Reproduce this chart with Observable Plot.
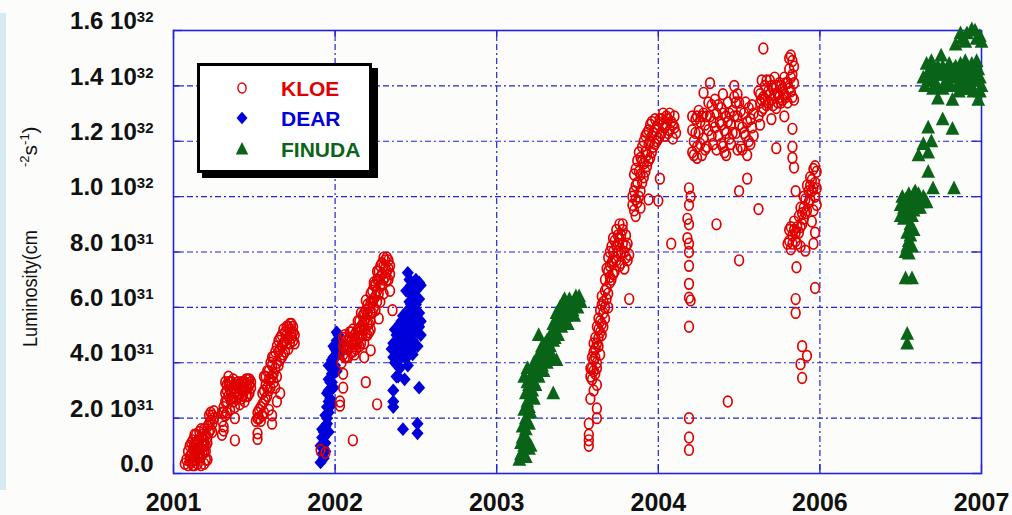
<!DOCTYPE html>
<html>
<head>
<meta charset="utf-8">
<script src="https://cdn.jsdelivr.net/npm/d3@7"></script>
<script src="https://cdn.jsdelivr.net/npm/@observablehq/plot@0.6"></script>
<style>
  html, body { margin: 0; padding: 0; background: #fcfcfa; }
  #wrap { position: relative; width: 1012px; height: 515px; overflow: hidden; }
  #strip { position: absolute; left: 0; top: 13px; width: 6px; height: 477px; background: #d6eaf3; }
  #wrap svg { position: absolute; left: 0; top: 0; }
</style>
</head>
<body>
<div id="wrap"><div id="strip"></div></div>
<script>
// x: position along the time axis (one unit per labelled tick), y: luminosity in units of 10^31 cm^-2 s^-1
const xTickValues = [0, 1, 2, 3, 4, 5];
const xTickLabels = ["2001", "2002", "2003", "2004", "2006", "2007"];
const yTickValues = [0, 2, 4, 6, 8, 10, 12, 14, 16];
const yTickMantissa = ["0.0", "2.0", "4.0", "6.0", "8.0", "1.0", "1.2", "1.4", "1.6"];
const yTickExponent = ["", "31", "31", "31", "31", "32", "32", "32", "32"];

const seriesNames = ["KLOE", "DEAR", "FINUDA"];
const seriesColors = ["#e00000", "#0000dd", "#0a6418"];

const kloe = [
  // 2001 runs
  [0.07,0.35],[0.09,0.3],[0.10,0.45],[0.12,0.3],[0.13,0.5],[0.15,0.35],[0.17,0.3],[0.19,0.35],[0.20,0.5],
  [0.11,0.7],[0.12,0.9],[0.13,1.1],[0.14,0.8],[0.15,1.2],[0.16,0.9],[0.17,1.3],[0.18,1.0],[0.19,0.8],
  [0.14,1.4],[0.16,1.5],[0.18,1.4],[0.19,1.2],[0.20,1.0],[0.21,1.3],[0.21,1.7],[0.22,1.5],[0.23,1.9],
  [0.24,2.1],[0.24,1.8],[0.23,1.6],[0.10,0.6],[0.12,1.2],[0.17,0.6],[0.20,0.8],[0.25,2.0],
  [0.08,0.5],[0.09,0.8],[0.10,1.0],[0.11,0.4],[0.11,1.1],[0.12,0.6],[0.13,0.8],[0.13,1.4],[0.14,0.5],
  [0.14,1.1],[0.15,0.7],[0.15,0.9],[0.16,0.6],[0.16,1.2],[0.17,0.9],[0.17,1.6],[0.18,0.7],[0.18,1.2],
  [0.19,1.0],[0.19,1.6],[0.20,1.4],[0.21,1.1],[0.22,1.8],[0.22,2.1],[0.23,2.2],[0.24,1.5],[0.25,2.25],
  [0.21,0.5],[0.13,0.3],
  [0.30,1.4],[0.31,1.7],[0.30,1.9],[0.32,2.1],[0.31,2.4],[0.33,2.6],[0.32,2.9],[0.33,3.2],[0.34,2.8],
  [0.35,3.0],[0.36,2.7],[0.37,3.1],[0.38,2.9],[0.39,3.2],[0.40,2.8],[0.41,3.1],[0.42,3.3],[0.43,3.0],
  [0.44,3.3],[0.45,3.1],[0.46,3.4],[0.47,3.2],[0.46,2.8],[0.44,2.6],[0.41,2.5],[0.38,2.4],[0.35,2.3],
  [0.33,2.2],[0.38,1.2],[0.38,2.0],[0.48,3.1],[0.36,3.3],[0.34,3.5],
  [0.32,3.3],[0.33,3.0],[0.34,3.3],[0.35,2.7],[0.35,3.3],[0.36,3.0],[0.37,2.6],[0.37,3.4],[0.38,3.2],
  [0.39,2.7],[0.39,3.0],[0.40,3.3],[0.40,3.1],[0.41,2.9],[0.42,2.7],[0.42,3.1],[0.43,2.8],[0.43,3.3],
  [0.44,3.0],[0.45,2.8],[0.45,3.4],[0.46,3.1],[0.47,2.9],[0.47,3.4],[0.48,3.3],[0.31,2.2],[0.32,2.6],
  [0.30,2.2],[0.31,1.55],
  [0.51,1.9],[0.52,2.2],[0.53,2.0],[0.54,2.4],[0.55,2.1],[0.56,2.6],[0.55,2.9],[0.57,3.2],[0.56,3.5],
  [0.58,2.8],[0.59,3.0],[0.58,3.7],[0.60,3.4],[0.61,3.9],[0.60,4.0],[0.62,3.6],[0.63,3.1],[0.62,4.2],
  [0.64,4.0],[0.65,4.4],[0.66,4.1],[0.67,4.6],[0.66,4.9],[0.68,4.3],[0.69,4.8],[0.70,5.0],[0.71,4.5],
  [0.72,5.2],[0.73,4.9],[0.74,5.1],[0.75,4.7],[0.73,5.4],[0.71,5.3],[0.52,1.25],[0.52,1.45],[0.61,1.8],
  [0.61,2.1],[0.64,2.6],[0.66,2.9],[0.59,2.3],
  [0.52,2.0],[0.53,2.3],[0.54,1.9],[0.55,2.5],[0.56,2.2],[0.56,3.0],[0.57,2.7],[0.57,3.5],[0.58,3.1],
  [0.59,3.4],[0.59,3.7],[0.60,3.1],[0.61,3.5],[0.61,4.2],[0.62,3.3],[0.63,3.8],[0.63,4.4],[0.64,3.5],
  [0.64,4.6],[0.65,3.9],[0.65,4.8],[0.66,4.5],[0.67,4.2],[0.67,5.0],[0.68,4.7],[0.68,5.2],[0.69,4.4],
  [0.69,5.1],[0.70,4.7],[0.70,5.3],[0.71,4.9],[0.72,4.7],[0.72,5.4],[0.73,5.1],[0.74,5.3],[0.74,4.8],
  [0.75,5.0],
  // 2002 run
  [1.04,4.0],[1.05,4.3],[1.06,4.6],[1.05,4.9],[1.07,4.2],[1.08,4.5],[1.08,4.8],[1.09,5.1],[1.10,4.4],
  [1.11,4.7],[1.12,5.0],[1.12,4.3],[1.13,4.8],[1.14,5.2],[1.15,4.6],[1.16,5.0],[1.17,5.4],[1.15,5.5],
  [1.18,4.7],[1.18,5.2],[1.19,5.6],[1.20,5.0],[1.21,5.4],[1.22,5.8],[1.20,6.1],[1.23,6.2],[1.22,6.5],
  [1.24,6.0],[1.25,6.4],[1.24,6.8],[1.26,6.6],[1.27,7.0],[1.26,7.3],[1.28,6.8],[1.29,7.2],[1.30,7.5],
  [1.31,7.1],[1.32,7.8],[1.33,7.4],[1.32,7.0],[1.34,7.2],[1.34,6.6],[1.355,5.9],[1.19,6.25],[1.18,4.2],
  [1.22,4.45],[1.05,3.6],[1.05,3.1],[1.03,2.6],[1.03,2.45],[1.19,3.3],[1.26,2.5],[1.11,1.2],[0.91,0.85],
  [0.94,0.75],[1.28,6.2],[1.30,6.5],[1.16,5.8],[1.27,5.6],
  [1.05,4.6],[1.06,4.2],[1.06,5.0],[1.07,4.5],[1.07,4.8],[1.08,4.2],[1.09,4.6],[1.09,4.9],[1.10,4.8],
  [1.10,5.1],[1.11,4.4],[1.11,5.2],[1.12,4.6],[1.13,4.5],[1.13,5.1],[1.14,4.7],[1.14,5.5],[1.15,4.9],
  [1.15,5.2],[1.16,4.7],[1.16,5.3],[1.17,5.0],[1.17,5.7],[1.18,5.5],[1.19,5.0],[1.19,5.9],[1.20,5.4],
  [1.20,5.8],[1.21,5.1],[1.21,6.0],[1.22,5.5],[1.22,6.2],[1.23,5.8],[1.23,6.6],[1.24,6.3],[1.25,5.9],
  [1.25,6.8],[1.26,6.2],[1.26,7.0],[1.27,6.5],[1.27,7.3],[1.28,7.1],[1.28,7.5],[1.29,6.8],[1.29,7.6],
  [1.30,7.0],[1.30,7.8],[1.31,7.4],[1.31,7.7],[1.32,7.3],[1.33,7.0],[1.33,7.7],[1.34,7.5],[1.24,6.9],
  [1.22,5.2],[1.18,5.8],
  // 2003-2004 run
  [2.57,1.0],[2.57,1.2],[2.57,1.4],[2.57,1.8],[2.62,2.0],[2.62,2.35],[2.58,2.7],[2.60,3.0],[2.62,3.2],
  [2.58,3.5],[2.59,3.8],[2.60,4.1],[2.61,3.6],[2.60,4.4],[2.62,4.0],[2.63,4.6],[2.61,4.9],[2.64,4.3],
  [2.63,5.2],[2.65,5.0],[2.64,5.5],[2.66,5.8],[2.65,6.1],[2.67,5.6],[2.68,6.3],[2.67,6.6],[2.69,6.0],
  [2.70,6.9],[2.69,7.3],[2.71,7.6],[2.70,8.0],[2.72,7.2],[2.73,7.8],[2.74,8.2],[2.75,8.6],[2.76,7.5],
  [2.77,8.0],[2.78,8.8],[2.78,9.0],[2.79,7.4],[2.80,8.2],[2.81,7.7],[2.82,6.3],[2.72,8.5],
  [2.58,3.8],[2.59,3.4],[2.59,4.2],[2.60,3.7],[2.60,4.7],[2.61,4.2],[2.61,4.5],[2.62,3.8],[2.62,4.7],
  [2.62,5.3],[2.63,4.9],[2.63,5.6],[2.64,5.1],[2.64,5.9],[2.65,5.4],[2.65,6.4],[2.66,5.3],[2.66,6.2],
  [2.67,6.0],[2.67,7.0],[2.68,6.7],[2.68,7.4],[2.69,6.5],[2.69,7.8],[2.70,7.1],[2.70,7.5],[2.71,7.0],
  [2.71,8.2],[2.72,7.7],[2.72,8.0],[2.73,7.3],[2.73,8.4],[2.74,7.7],[2.74,8.8],[2.75,8.0],[2.75,8.3],
  [2.76,8.5],[2.76,9.0],[2.77,7.6],[2.77,8.6],[2.78,8.3],[2.79,8.0],[2.80,7.8],[2.80,8.6],[2.81,8.3],
  [2.82,7.9],
  [2.85,9.5],[2.84,10.0],[2.86,10.4],[2.87,9.8],[2.88,10.9],[2.89,10.2],[2.90,11.3],[2.91,10.7],
  [2.92,11.6],[2.93,11.1],[2.94,11.9],[2.95,11.4],[2.96,12.2],[2.97,11.8],[2.98,12.4],[2.99,12.0],
  [3.00,12.6],[3.01,12.2],[3.02,12.8],[3.04,12.5],[3.05,12.9],[3.06,12.3],[3.08,12.7],[3.09,12.1],
  [3.10,12.5],[3.01,10.65],[2.94,9.9],[3.00,9.85],[3.08,8.3],[2.86,9.3],[2.89,9.6],
  [2.84,9.7],[2.85,10.2],[2.85,10.8],[2.86,9.9],[2.86,11.0],[2.87,10.5],[2.87,11.3],[2.88,10.0],
  [2.88,11.6],[2.89,10.8],[2.89,11.4],[2.90,10.5],[2.90,11.8],[2.91,11.2],[2.91,12.0],[2.92,10.9],
  [2.92,12.2],[2.93,11.5],[2.93,12.3],[2.94,11.3],[2.94,12.4],[2.95,12.0],[2.95,12.6],[2.96,11.6],
  [2.96,12.7],[2.97,12.3],[2.98,11.9],[2.98,12.8],[2.99,12.5],[3.00,12.1],[3.01,12.8],[3.02,12.3],
  [3.03,12.6],[3.03,13.0],[3.04,12.2],[3.05,12.6],[3.06,12.8],[3.07,12.4],[3.07,13.0],[3.09,12.6],
  [3.10,12.9],[3.11,12.3],
  [3.19,10.3],[3.20,10.0],[3.19,9.7],[3.18,9.2],[3.19,9.0],[3.18,8.5],[3.19,8.3],[3.19,8.0],[3.19,7.5],
  [3.19,6.85],[3.19,6.35],[3.20,6.25],[3.19,5.3],[3.19,2.0],[3.19,1.3],[3.19,0.85],
  [3.21,11.6],[3.22,12.0],[3.21,12.4],[3.23,12.8],[3.24,11.8],[3.25,12.3],[3.26,12.7],[3.25,13.1],
  [3.27,11.5],[3.28,12.1],[3.29,12.6],[3.28,13.0],[3.30,11.8],[3.31,12.4],[3.32,12.9],[3.33,13.3],
  [3.34,11.9],[3.35,12.5],[3.36,13.0],[3.37,12.2],[3.38,12.7],[3.39,13.2],[3.40,11.8],[3.41,12.4],
  [3.42,12.9],[3.43,13.4],[3.44,12.1],[3.45,12.6],[3.46,13.1],[3.47,13.6],[3.48,12.3],[3.49,12.9],
  [3.50,13.4],[3.51,11.8],[3.52,12.5],[3.53,13.0],[3.54,12.2],[3.55,12.7],[3.56,13.2],[3.57,11.9],
  [3.58,12.5],[3.59,13.0],[3.28,13.75],[3.32,14.1],[3.47,14.0],[3.24,11.4],[3.55,11.5],[3.42,11.5],
  [3.40,13.7],[3.49,13.7],
  [3.21,12.9],[3.22,11.5],[3.23,12.3],[3.24,12.9],[3.26,11.9],[3.27,12.9],[3.29,11.7],[3.30,12.9],
  [3.31,13.4],[3.33,12.2],[3.34,12.7],[3.35,13.5],[3.36,11.7],[3.37,13.3],[3.39,11.9],[3.39,12.6],
  [3.40,13.0],[3.41,11.6],[3.42,12.3],[3.43,12.7],[3.44,13.0],[3.45,11.9],[3.46,12.3],[3.47,12.9],
  [3.48,13.4],[3.49,11.7],[3.50,12.6],[3.51,13.1],[3.52,11.7],[3.53,12.3],[3.54,13.4],[3.56,12.0],
  [3.57,12.8],[3.58,13.3],[3.59,12.2],
  [3.36,9.0],[3.50,7.7],[3.50,10.2],[3.55,10.65],[3.62,9.55],[3.73,11.75],[3.83,12.45],[3.83,11.8],
  [3.83,11.4],[3.84,11.05],[3.43,2.6],
  [3.62,12.9],[3.63,13.4],[3.62,13.8],[3.64,13.1],[3.65,13.6],[3.66,14.0],[3.67,13.3],[3.68,13.8],
  [3.69,14.2],[3.70,13.5],[3.71,13.9],[3.72,14.3],[3.73,13.2],[3.74,13.7],[3.75,14.1],[3.76,13.4],
  [3.77,13.9],[3.78,14.3],[3.79,13.6],[3.80,14.1],[3.81,14.6],[3.82,13.8],[3.83,14.4],[3.83,14.9],
  [3.82,15.1],[3.84,13.5],[3.65,15.35],[3.63,12.6],[3.78,12.9],[3.70,12.8],
  [3.63,13.7],[3.64,13.5],[3.64,14.2],[3.65,13.2],[3.66,13.5],[3.67,14.2],[3.68,13.4],[3.69,13.7],
  [3.70,14.0],[3.71,13.3],[3.72,13.7],[3.73,14.0],[3.74,13.4],[3.75,13.6],[3.76,14.0],[3.77,13.5],
  [3.78,13.7],[3.79,14.1],[3.80,13.4],[3.81,13.9],[3.82,14.3],[3.83,13.6],[3.84,14.1],[3.84,14.7],
  [3.81,15.0],
  [3.80,8.3],[3.81,8.8],[3.82,8.1],[3.83,8.6],[3.84,9.1],[3.85,8.4],[3.86,8.9],[3.87,9.3],[3.88,8.2],
  [3.88,9.6],[3.89,9.0],[3.90,10.0],[3.91,9.4],[3.91,8.05],[3.92,10.4],[3.93,9.8],[3.94,10.7],
  [3.95,10.2],[3.96,11.0],[3.97,10.5],[3.96,8.3],[3.97,8.7],[3.98,9.7],[3.98,10.9],[3.95,9.1],[3.85,10.2],
  [3.81,8.4],[3.82,8.9],[3.83,8.3],[3.84,8.8],[3.85,8.7],[3.86,8.3],[3.87,8.7],[3.88,8.9],[3.89,9.4],
  [3.90,9.2],[3.90,9.6],[3.91,9.9],[3.92,9.5],[3.93,10.2],[3.94,9.9],[3.94,10.4],[3.95,10.6],[3.96,10.3],
  [3.96,9.5],[3.97,10.0],[3.97,11.1],[3.98,10.3],
  [3.855,7.45],[3.97,6.7],[3.85,6.3],[3.85,5.8],[3.89,4.6],[3.92,4.25],[3.88,3.95],[3.89,3.45]
];

const dear = [
  [0.91,0.4],[0.92,0.7],[0.91,1.0],[0.93,1.3],[0.92,1.6],[0.94,1.1],[0.93,0.55],[0.95,1.8],[0.94,2.1],
  [0.95,2.4],[0.96,2.2],[0.97,2.7],[0.96,3.0],[0.98,2.5],[0.97,3.3],[0.98,3.6],[0.99,3.1],[1.00,3.9],
  [0.99,4.2],[1.00,4.5],[1.01,4.8],[1.02,4.3],[1.02,5.0],[1.01,3.7],[0.96,3.9],[0.96,1.5],[1.03,4.6],
  [0.92,1.0],[0.93,0.9],[0.93,1.5],[0.94,1.7],[0.95,2.0],[0.95,2.9],[0.96,2.6],[0.96,3.4],[0.97,3.0],
  [0.97,3.9],[0.98,3.3],[0.98,4.1],[0.99,3.6],[0.99,4.6],[1.00,4.2],[1.01,4.4],[1.01,5.1],[1.02,4.7],
  [0.94,0.8],[0.92,1.3],
  [1.45,7.25],[1.50,7.0],[1.47,6.8],[1.44,6.6],[1.52,6.9],[1.48,6.4],[1.50,6.1],[1.45,5.9],[1.42,5.7],
  [1.47,5.6],[1.52,5.8],[1.40,5.4],[1.44,5.3],[1.49,5.2],[1.53,5.0],[1.38,5.0],[1.41,4.9],[1.46,4.8],
  [1.51,4.6],[1.36,4.7],[1.39,4.4],[1.43,4.2],[1.48,4.3],[1.37,4.0],[1.40,3.8],[1.45,3.9],[1.38,3.5],
  [1.43,3.4],[1.52,3.1],[1.36,3.0],[1.36,2.6],[1.36,2.4],[1.42,1.6],[1.51,1.8],[1.51,1.45],[1.35,4.5],
  [1.46,6.2],[1.53,5.5],
  [1.36,4.2],[1.37,4.5],[1.37,5.2],[1.38,4.2],[1.38,4.7],[1.39,3.9],[1.39,5.2],[1.40,4.6],[1.40,5.0],
  [1.41,4.2],[1.41,5.5],[1.42,4.5],[1.42,5.1],[1.43,4.8],[1.43,5.5],[1.44,4.4],[1.44,5.8],[1.45,5.0],
  [1.45,4.5],[1.46,5.4],[1.46,4.3],[1.47,5.0],[1.47,6.1],[1.48,4.8],[1.48,5.6],[1.49,6.0],[1.49,4.6],
  [1.50,5.4],[1.50,6.6],[1.51,5.1],[1.52,5.3],[1.52,6.3],[1.53,6.8],[1.46,7.0],[1.39,3.5]
];

const finuda = [
  [2.14,0.5],[2.16,0.8],[2.18,0.6],[2.20,0.9],[2.15,1.1],[2.17,1.4],[2.19,1.2],[2.21,1.0],[2.16,1.7],
  [2.18,2.0],[2.20,1.8],[2.17,2.3],[2.19,2.6],[2.21,2.2],[2.18,2.9],[2.20,3.2],[2.17,3.5],[2.22,3.0],
  [2.19,3.8],[2.21,3.5],[2.23,3.3],[2.24,3.7],[2.25,4.0],[2.26,3.5],[2.27,4.4],[2.28,3.9],[2.29,4.2],
  [2.30,4.7],[2.31,4.0],[2.32,4.5],[2.33,4.9],[2.34,4.3],[2.35,4.8],[2.36,5.2],[2.37,5.5],[2.38,5.0],
  [2.39,5.8],[2.40,5.3],[2.41,6.2],[2.42,5.6],[2.43,6.0],[2.44,5.4],[2.45,5.8],[2.46,6.1],[2.48,5.7],
  [2.49,6.4],[2.50,6.0],[2.52,6.2],[2.35,2.9],[2.23,2.7],[2.37,4.1],[2.26,5.0],
  [2.15,0.7],[2.16,1.3],[2.17,1.0],[2.18,1.6],[2.19,1.9],[2.20,2.4],[2.19,3.3],[2.21,2.8],[2.22,3.6],
  [2.23,4.0],[2.24,3.2],[2.25,3.6],[2.26,4.3],[2.27,3.8],[2.28,4.6],[2.29,3.7],[2.30,4.4],[2.31,4.8],
  [2.32,4.2],[2.33,4.6],[2.34,5.1],[2.35,5.4],[2.36,4.9],[2.37,5.8],[2.38,5.4],[2.39,6.0],[2.40,5.7],
  [2.41,5.9],[2.42,6.3],[2.43,5.7],[2.44,6.1],[2.45,6.3],[2.47,5.9],[2.48,6.2],[2.51,6.4],
  [4.54,5.05],[4.54,4.7],[4.53,7.05],[4.57,7.05],[4.53,8.0],[4.55,8.4],[4.57,8.2],[4.54,8.7],[4.56,9.0],
  [4.58,8.8],[4.50,9.3],[4.52,9.6],[4.54,9.3],[4.56,9.8],[4.58,9.5],[4.60,9.9],[4.62,9.6],[4.64,10.0],
  [4.66,9.8],[4.51,10.0],[4.55,10.1],[4.59,10.2],[4.67,10.9],[4.70,10.3],[4.83,10.3],[4.61,11.5],
  [4.64,11.9],[4.67,11.6],[4.69,12.0],[4.67,12.5],[4.76,12.8],[4.82,12.45],[4.73,13.55],[4.82,13.5],
  [4.98,13.5],
  [4.50,9.7],[4.52,9.2],[4.53,9.9],[4.55,9.5],[4.57,9.7],[4.58,10.1],[4.60,9.6],[4.61,10.1],[4.63,9.8],
  [4.65,9.9],[4.54,8.2],[4.56,8.6],[4.55,7.95],[4.57,9.3],
  [4.65,14.0],[4.67,14.5],[4.69,14.9],[4.71,14.2],[4.73,14.7],[4.75,15.1],[4.77,14.4],[4.79,14.0],
  [4.80,14.8],[4.82,14.3],[4.84,14.7],[4.86,14.1],[4.88,14.5],[4.90,14.9],[4.92,14.3],[4.94,14.8],
  [4.96,14.2],[4.98,14.6],[5.00,14.0],[4.99,13.8],[4.70,13.9],[4.76,13.9],[4.86,13.8],[4.93,13.9],
  [4.87,15.9],[4.94,16.05],[4.90,15.6],[4.97,15.7],[4.84,15.5],[5.00,15.6],[4.85,14.0],
  [4.64,14.3],[4.66,14.8],[4.68,14.2],[4.70,14.6],[4.72,14.0],[4.74,14.4],[4.76,14.7],[4.78,14.2],
  [4.80,14.5],[4.81,14.0],[4.83,14.6],[4.85,14.4],[4.87,14.8],[4.89,14.2],[4.91,14.6],[4.93,14.1],
  [4.95,14.5],[4.97,14.9],[4.99,14.3],[4.88,13.9],[4.95,13.8],[4.91,15.9],[4.96,16.0],[4.99,15.8],
  [4.88,15.7]
];

// Marker shapes: an upright open ellipse, a filled diamond and a filled triangle
const K = 0.5523;
const ellipseSymbol = {
  draw(ctx, size) {
    const r = Math.sqrt(size / Math.PI), rx = 0.82 * r, ry = r;
    ctx.moveTo(rx, 0);
    ctx.bezierCurveTo(rx, K * ry, K * rx, ry, 0, ry);
    ctx.bezierCurveTo(-K * rx, ry, -rx, K * ry, -rx, 0);
    ctx.bezierCurveTo(-rx, -K * ry, -K * rx, -ry, 0, -ry);
    ctx.bezierCurveTo(K * rx, -ry, rx, -K * ry, rx, 0);
    ctx.closePath();
  }
};
const diamondSymbol = {
  draw(ctx, size) {
    const r = Math.sqrt(size / Math.PI);
    ctx.moveTo(0, -1.25 * r); ctx.lineTo(1.1 * r, 0); ctx.lineTo(0, 1.25 * r); ctx.lineTo(-1.1 * r, 0);
    ctx.closePath();
  }
};
const triangleSymbol = {
  draw(ctx, size) {
    const r = Math.sqrt(size / Math.PI);
    ctx.moveTo(0, -1.4 * r); ctx.lineTo(1.25 * r, 1.1 * r); ctx.lineTo(-1.25 * r, 1.1 * r);
    ctx.closePath();
  }
};

const gridColor = "#2222d6";
const font = "'Liberation Sans', Arial, Helvetica, sans-serif";
const px = d => d[0], py = d => d[1];

const chart = Plot.plot({
  width: 1012,
  height: 515,
  marginLeft: 173,
  marginRight: 31,
  marginTop: 30,
  marginBottom: 42,
  style: { background: "transparent", fontFamily: font, overflow: "visible" },
  x: { domain: [0, 5], axis: null },
  y: { domain: [0, 16], axis: null },
  marks: [
    Plot.gridY(yTickValues.slice(1, -1), { stroke: gridColor, strokeOpacity: 1, strokeWidth: 1.2, strokeDasharray: "6,3,2,3" }),
    Plot.gridX(xTickValues.slice(1, -1), { stroke: gridColor, strokeOpacity: 1, strokeWidth: 1.2, strokeDasharray: "6,3,2,3" }),
    // short solid ticks inside the frame
    Plot.ruleY(yTickValues, { x1: 0, x2: 0.055, stroke: gridColor, strokeWidth: 1.3 }),
    Plot.ruleY(yTickValues, { x1: 4.945, x2: 5, stroke: gridColor, strokeWidth: 1.3 }),
    Plot.ruleX(xTickValues, { y1: 0, y2: 0.32, stroke: gridColor, strokeWidth: 1.3 }),
    Plot.ruleX(xTickValues, { y1: 15.68, y2: 16, stroke: gridColor, strokeWidth: 1.3 }),
    Plot.frame({ stroke: gridColor, strokeWidth: 1.6 }),
    Plot.axisY(yTickValues, {
      anchor: "left", tickSize: 0, tickPadding: 20, dy: -9,
      fontSize: 24, fontWeight: "bold", fill: "#111",
      tickFormat: d => {
        const i = yTickValues.indexOf(d);
        return yTickExponent[i] ? `${yTickMantissa[i]} 10^${yTickExponent[i]}` : yTickMantissa[i];
      }
    }),
    Plot.axisX(xTickValues, {
      anchor: "bottom", tickSize: 0, tickPadding: 20,
      fontSize: 25, fontWeight: "bold", fill: "#111",
      tickFormat: d => xTickLabels[xTickValues.indexOf(d)]
    }),
    Plot.dot(dear, { x: px, y: py, r: 5.5, symbol: diamondSymbol, fill: seriesColors[1], stroke: "none" }),
    Plot.dot(finuda, { x: px, y: py, r: 5.5, symbol: triangleSymbol, fill: seriesColors[2], stroke: "none" }),
    Plot.dot(kloe, { x: px, y: py, r: 5.3, symbol: ellipseSymbol, fill: "none", stroke: seriesColors[0], strokeWidth: 1.7 })
  ]
});

document.getElementById("wrap").appendChild(chart);
const svg = d3.select(chart);

// powers of ten as raised superscripts
svg.selectAll('g[aria-label="y-axis tick label"] text').each(function () {
  const s = this.textContent;
  if (!s.includes("^")) return;
  const [mant, exp] = s.split("^");
  const t = d3.select(this);
  t.text(null);
  t.append("tspan").text(mant);
  t.append("tspan").attr("dy", -7).attr("font-size", 15).text(exp);
});

// y-axis title (rotated)
const titleStyle = sel => sel.attr("font-family", font).attr("font-size", 21).attr("fill", "#111")
  .attr("text-anchor", "start");
svg.append("text").call(titleStyle)
  .attr("transform", "translate(37,347) rotate(-90)")
  .attr("textLength", 117).attr("lengthAdjust", "spacingAndGlyphs")
  .text("Luminosity(cm");
const unit = svg.append("text").call(titleStyle).attr("transform", "translate(37,167) rotate(-90)");
unit.append("tspan").attr("font-size", 13).attr("dy", -8).text("-2");
unit.append("tspan").attr("dy", 8).text("s");
unit.append("tspan").attr("font-size", 13).attr("dy", -8).text("-1");
unit.append("tspan").attr("dy", 8).text(")");

// legend box with drop shadow
const lg = svg.append("g").attr("text-anchor", "start");
lg.append("rect").attr("x", 202).attr("y", 68).attr("width", 176).attr("height", 110).attr("fill", "#000");
lg.append("rect").attr("x", 198.5).attr("y", 64.5).attr("width", 172).attr("height", 107)
  .attr("fill", "#fff").attr("stroke", "#000").attr("stroke-width", 3);
const legendSymbols = [ellipseSymbol, diamondSymbol, triangleSymbol];
const legendRows = [88, 118, 149];
seriesNames.forEach((name, i) => {
  const p = d3.path();
  legendSymbols[i].draw(p, Math.PI * 25);
  const sym = lg.append("path").attr("d", p.toString())
    .attr("transform", `translate(242,${legendRows[i]})`);
  if (i === 0) sym.attr("fill", "none").attr("stroke", seriesColors[i]).attr("stroke-width", 1.4);
  else sym.attr("fill", seriesColors[i]);
  lg.append("text").attr("x", 281).attr("y", legendRows[i] + 8)
    .attr("text-anchor", "start")
    .attr("font-family", font).attr("font-size", 21).attr("font-weight", "bold")
    .attr("fill", seriesColors[i]).text(name);
});
</script>
</body>
</html>
